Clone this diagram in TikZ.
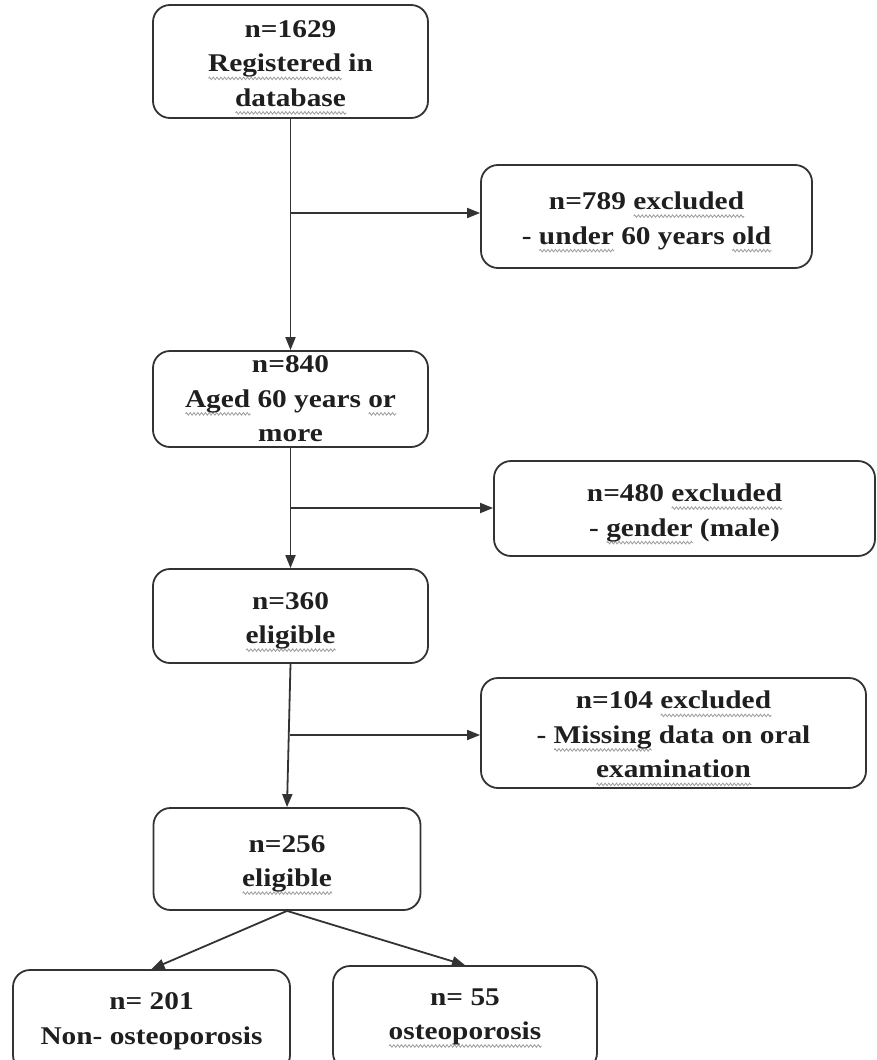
\documentclass[tikz,border=0pt]{standalone}
\usepackage{fontspec}
\setmainfont{Liberation Serif}[FakeStretch=1.15]
\usetikzlibrary{arrows.meta,decorations.pathmorphing}
\definecolor{linegray}{HTML}{333333}
\definecolor{squig}{HTML}{9C9C9C}
\newbox\wordbox
\newcommand\wavy[1]{\setbox\wordbox\hbox{#1}\rlap{\tikz[baseline=0pt]\draw[squig, sharp corners, line width=0.8pt, decorate,
    decoration={zigzag, amplitude=1.3pt, segment length=3.8pt}] (0pt,-6.5pt) -- (\the\wd\wordbox,-6.5pt);}\box\wordbox}
\newcommand\toprow{\rule{0pt}{29pt}}

\begin{document}
\begin{tikzpicture}[x=1pt,y=-1pt,
    box/.style={draw=linegray, line width=1.8pt, rounded corners=17pt, align=center,
                text=black!88, font=\bfseries\fontsize{25.5}{34.5}\selectfont, inner sep=0pt},
    flow/.style={draw=linegray, line width=1.8pt, arrows={-Triangle[length=13pt,width=10pt]}}]
    \path[use as bounding box, clip] (0,0) rectangle (876,1060);
    % main column
    \node[box, minimum width=275pt, minimum height=113pt] (reg) at (290.5,61.5) {\toprow n=1629\\ \wavy{Registered} in\\ \wavy{database}};
    \node[box, minimum width=275pt, minimum height=96pt] (age) at (290.5,399) {n=840\\ \wavy{Aged} 60 years \wavy{or}\\ more};
    \node[box, minimum width=275pt, minimum height=94pt] (elig) at (290.5,616) {\toprow n=360\\ \wavy{eligible}};
    \node[box, minimum width=267pt, minimum height=102pt] (final) at (287,859) {\toprow n=256\\ \wavy{eligible}};
    % exclusions
    \node[box, minimum width=331pt, minimum height=103pt] (ex1) at (646.5,216.5) {\toprow n=789 \wavy{excluded}\\ - \wavy{under} 60 years \wavy{old}};
    \node[box, minimum width=381pt, minimum height=95pt] (ex2) at (684.5,508.5) {\toprow n=480 \wavy{excluded}\\ - \wavy{gender} (male)};
    \node[box, minimum width=385pt, minimum height=110pt] (ex3) at (673.5,733) {\toprow n=104 \wavy{excluded}\\ - \wavy{Missing} data on oral\\ \wavy{examination}};
    % groups
    \node[box, minimum width=277pt, minimum height=102pt] (nonost) at (151.5,1021) {n= 201\\ Non- osteoporosis};
    \node[box, minimum width=264pt, minimum height=104pt] (ost) at (465,1018) {n= 55\\ \wavy{osteoporosis}};
    \coordinate (j1) at (290,213);
    \coordinate (j2) at (290,508);
    \coordinate (j3) at (289.5,735);
    \draw[flow] (reg) -- (age);
    \draw[flow] (j1) -- (j1 -| ex1.west);
    \draw[flow] (age) -- (elig);
    \draw[flow] (j2) -- (j2 -| ex2.west);
    \draw[flow] (elig.south) -- (final.north);
    \draw[flow] (j3) -- (j3 -| ex3.west);
    \draw[flow] (final.south) -- (nonost.north);
    \draw[flow] (final.south) -- (ost.north);
\end{tikzpicture}
\end{document}
